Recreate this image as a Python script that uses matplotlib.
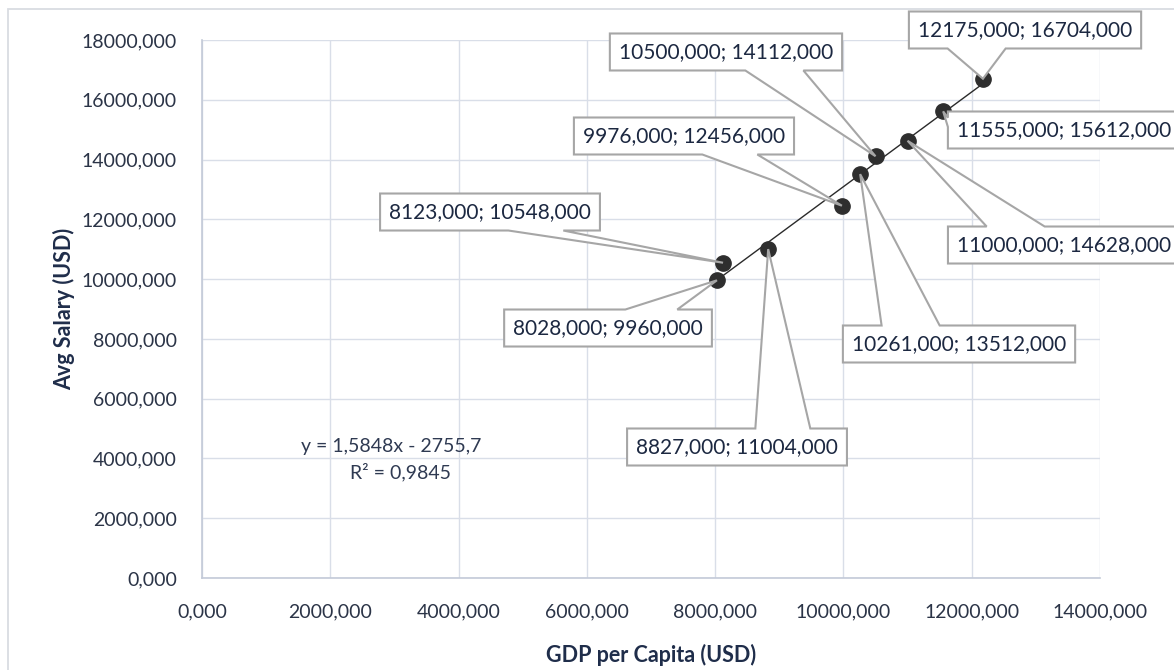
import numpy as np
import matplotlib
matplotlib.use("Agg")
import matplotlib.pyplot as plt
from matplotlib.patches import Rectangle, Polygon

plt.rcParams['font.family'] = ['Lato', 'DejaVu Sans']

# data
gdp = [8028, 8123, 8827, 9976, 10261, 10500, 11000, 11555, 12175]
salary = [9960, 10548, 11004, 12456, 13512, 14112, 14628, 15612, 16704]
x_ticks = [0, 2000, 4000, 6000, 8000, 10000, 12000, 14000]
y_ticks = [0, 2000, 4000, 6000, 8000, 10000, 12000, 14000, 16000, 18000]

# centre of each callout box (data units), same order as the points
label_pos = [(6330, 8364), (4490, 12245), (8341, 4383), (7514, 14788),
             (11802, 7829), (8169, 17599), (13439, 11141), (13439, 14989),
             (12831, 18335)]

def fmt(v):
    return "{:.3f}".format(v).replace(".", ",")

W, H = 1174, 670
fig = plt.figure(figsize=(W/100, H/100), dpi=100)
ax = fig.add_axes([202/W, 1-578/H, 898/W, 538/H])

# outer chart frame (only top/left edge fall inside the picture)
fig.patches.append(Rectangle((8/W, -0.05), 1.2, 1-9/H+0.05,
                             transform=fig.transFigure, fill=False,
                             ec='#d9dce2', lw=1.3))

ax.set_xlim(0, 14000)
ax.set_ylim(0, 18000)
ax.set_xticks(x_ticks)
ax.set_yticks(y_ticks)
ax.set_xticklabels([fmt(v) for v in x_ticks])
ax.set_yticklabels([fmt(v) for v in y_ticks])
ax.tick_params(length=0, labelsize=14, colors='#2b3447')
ax.tick_params(axis='x', pad=18)
ax.tick_params(axis='y', pad=18)
ax.grid(True, color='#d9dee8', lw=1)
ax.set_axisbelow(True)
for s in ['top', 'right']:
    ax.spines[s].set_visible(False)
for s in ['left', 'bottom']:
    ax.spines[s].set_color('#c3cad8')
    ax.spines[s].set_linewidth(1.2)

# linear trend line
k, b = np.polyfit(gdp, salary, 1)
xs = np.array([min(gdp), max(gdp)])
ax.plot(xs, k*xs + b, color='#2a2a2a', lw=1, zorder=3)
ax.plot(gdp, salary, 'o', color='#2e2e2e', markersize=11, zorder=4)

ax.text(2947, 4383, "y = 1,5848x - 2755,7", ha='center', va='center',
        fontsize=14, color='#2f3a52')
ax.text(3087, 3546, "R² = 0,9845", ha='center', va='center',
        fontsize=14, color='#2f3a52')

ax.set_xlabel("GDP per Capita (USD)", fontsize=15.5, fontweight='bold',
              color='#1f2d4a', labelpad=17)
ax.set_ylabel("Avg Salary (USD)", fontsize=15.5, fontweight='bold',
              color='#1f2d4a', labelpad=5)

# callout labels, drawn like Excel's rectangular callout shape
texts = []
for xv, yv, (tx, ty) in zip(gdp, salary, label_pos):
    t = ax.text(tx, ty, fmt(xv) + "; " + fmt(yv), ha='center', va='center',
                fontsize=15, color='#1c2841', zorder=6, clip_on=False)
    texts.append(t)

fig.canvas.draw()
renderer = fig.canvas.get_renderer()
inv = ax.transData.inverted()
for t, xv, yv, (lx, ly) in zip(texts, gdp, salary, label_pos):
    w = t.get_window_extent(renderer).width + 18
    h = 37
    cx, cy = ax.transData.transform((lx, ly))
    px, py = ax.transData.transform((xv, yv))
    cy, py = H - cy, H - py   # work with y pointing down
    l, r, top, bot = cx - w/2, cx + w/2, cy - h/2, cy + h/2
    dxp, dyp = px - cx, py - cy
    dz = abs(dxp*h) - abs(dyp*w)
    g1, g2 = (7, 10) if dxp > 0 else (2, 5)
    x1, x2 = l + w*g1/12, l + w*g2/12
    g1, g2 = (7, 10) if dyp > 0 else (2, 5)
    y1, y2 = top + h*g1/12, top + h*g2/12
    pl = (px, py) if (dz > 0 and dxp <= 0) else (l, y1)
    pr = (px, py) if (dz > 0 and dxp > 0) else (r, y1)
    pt = (px, py) if (dz <= 0 and dyp <= 0) else (x1, top)
    pb = (px, py) if (dz <= 0 and dyp > 0) else (x1, bot)
    pts = [(l, top), (x1, top), pt, (x2, top), (r, top), (r, y1), pr,
           (r, y2), (r, bot), (x2, bot), pb, (x1, bot), (l, bot),
           (l, y2), pl, (l, y1)]
    pts = inv.transform([(u, H - v) for u, v in pts])
    ax.add_patch(Polygon(pts, closed=True, fc='white', ec='#a6a6a6',
                         lw=1.5, joinstyle='miter', zorder=5, clip_on=False))

fig.savefig('out.png', dpi=100)
